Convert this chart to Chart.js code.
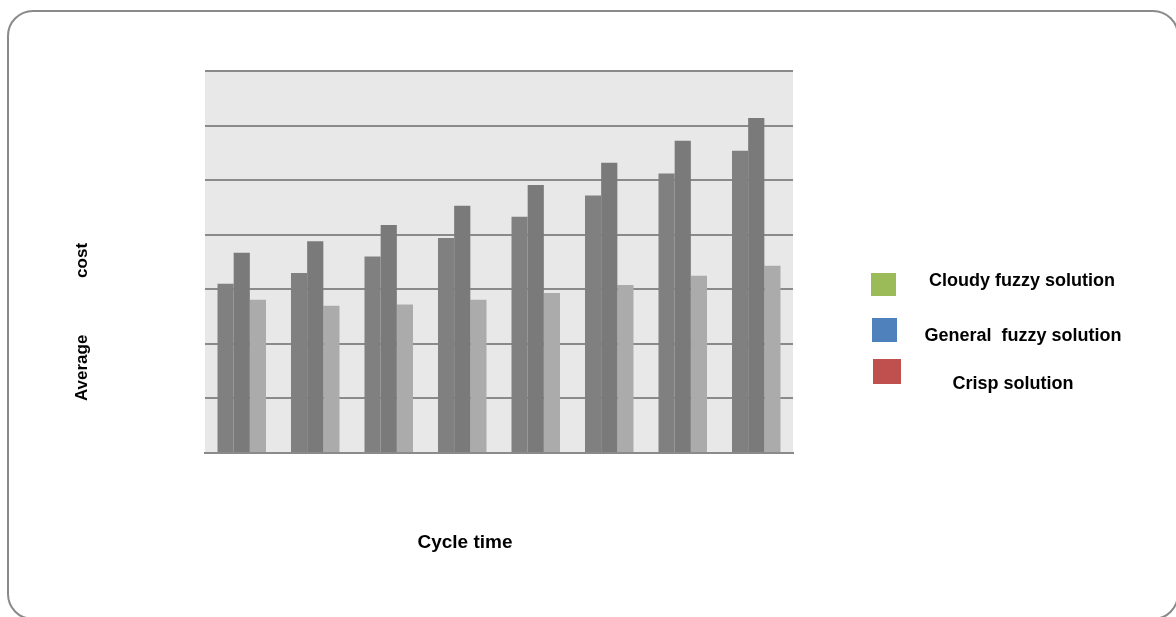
<!DOCTYPE html>
<html>
<head>
<meta charset="utf-8">
<script src="https://cdn.jsdelivr.net/npm/chart.js@4"></script>
<style>
    html, body { margin: 0; padding: 0; background: #fff; overflow: hidden; }
    #frame {
        position: absolute;
        left: 7px; top: 10px;
        width: 1172px; height: 610px;
        box-sizing: border-box;
        border: 2.5px solid #8a8a8a;
        border-radius: 26px;
    }
    #chart { position: absolute; left: 0; top: 0; }
</style>
</head>
<body>
<div id="frame"></div>
<canvas id="chart" width="1176" height="617"></canvas>
<script>
// cycle time categories (no tick labels shown in the picture)
const cycleTimes = ["1", "2", "3", "4", "5", "6", "7", "8"];

// average cost, in gridline units (axis 0..7)
const cloudyFuzzy = [3.10, 3.30, 3.60, 3.94, 4.33, 4.72, 5.12, 5.54];
const generalFuzzy = [3.67, 3.88, 4.18, 4.53, 4.91, 5.32, 5.72, 6.14];
const crisp = [2.81, 2.70, 2.72, 2.81, 2.93, 3.08, 3.25, 3.43];

const seriesNames = ["Cloudy fuzzy solution", "General  fuzzy solution", "Crisp solution"];
const barColors = ["#808080", "#7a7a7a", "#ababab"];
const legendColors = ["#9bbb59", "#4f81bd", "#c0504d"];

const yTitle = "Average            cost";
const xTitle = "Cycle time";

const FONT = "'Liberation Sans', Arial, sans-serif";

// plot background + hand-placed legend and axis titles, like the original sheet
const decorPlugin = {
    id: "decor",
    beforeDraw(chart) {
        const { ctx, chartArea: a } = chart;
        ctx.save();
        ctx.fillStyle = "#e8e8e8";
        ctx.fillRect(a.left, a.top, a.right - a.left, a.bottom - a.top);
        ctx.restore();
    },
    afterDraw(chart) {
        const { ctx } = chart;
        ctx.save();
        ctx.fillStyle = "#000";
        ctx.textAlign = "center";
        ctx.textBaseline = "middle";

        ctx.font = "bold 19px " + FONT;
        ctx.fillText(xTitle, 465, 543);

        ctx.save();
        ctx.font = "bold 17px " + FONT;
        ctx.translate(82, 322);
        ctx.rotate(-Math.PI / 2);
        ctx.fillText(yTitle, 0, 0);
        ctx.restore();

        const boxes = [
            { x: 871, y: 273, w: 25, h: 23, tx: 1022, ty: 281 },
            { x: 872, y: 318, w: 25, h: 24, tx: 1023, ty: 336 },
            { x: 873, y: 359, w: 28, h: 25, tx: 1013, ty: 384 },
        ];
        ctx.font = "bold 18px " + FONT;
        boxes.forEach((b, i) => {
            ctx.fillStyle = legendColors[i];
            ctx.fillRect(b.x, b.y, b.w, b.h);
            ctx.fillStyle = "#000";
            ctx.fillText(seriesNames[i], b.tx, b.ty);
        });
        ctx.restore();
    }
};

const ctx = document.getElementById("chart").getContext("2d");

new Chart(ctx, {
    type: "bar",
    data: {
        labels: cycleTimes,
        datasets: [
            { label: seriesNames[0], data: cloudyFuzzy, backgroundColor: barColors[0] },
            { label: seriesNames[1], data: generalFuzzy, backgroundColor: barColors[1] },
            { label: seriesNames[2], data: crisp, backgroundColor: barColors[2] },
        ]
    },
    options: {
        responsive: false,
        animation: false,
        layout: {
            padding: { left: 205, right: 383, top: 71, bottom: 164 }
        },
        datasets: {
            bar: {
                categoryPercentage: 0.66,
                barPercentage: 1.0,
                borderWidth: 0,
            }
        },
        plugins: {
            legend: { display: false },
            tooltip: { enabled: false },
        },
        scales: {
            x: {
                grid: { display: false, drawTicks: false },
                ticks: { display: false },
                border: { display: true, color: "#8a8a8a", width: 2 },
            },
            y: {
                min: 0,
                max: 7,
                grid: { color: "#8a8a8a", lineWidth: 2, drawTicks: false },
                ticks: { display: false, stepSize: 1 },
                border: { display: false },
            }
        }
    },
    plugins: [decorPlugin]
});
</script>
</body>
</html>
